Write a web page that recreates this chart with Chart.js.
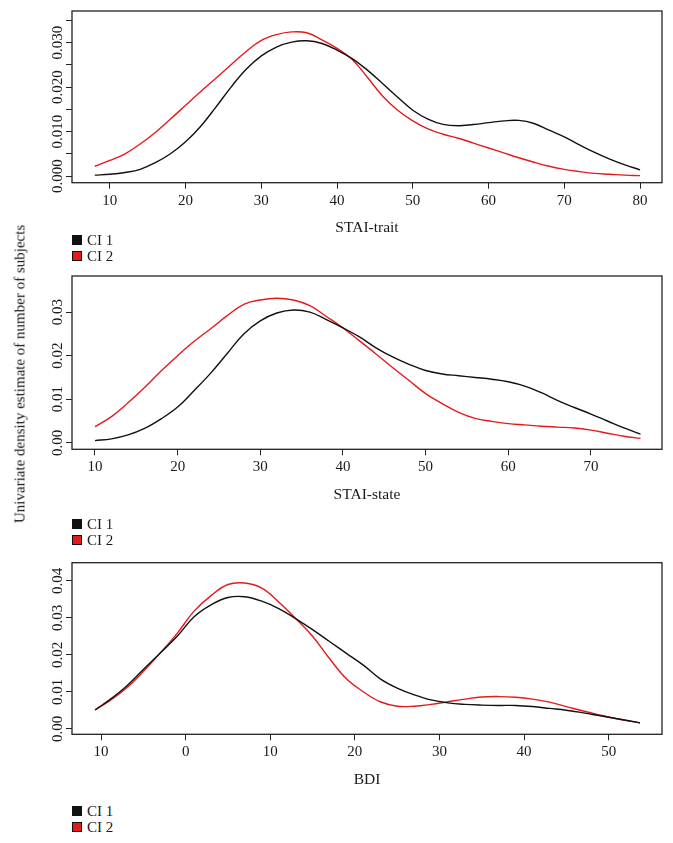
<!DOCTYPE html>
<html>
<head>
<meta charset="utf-8">
<script src="https://cdn.jsdelivr.net/npm/chart.js@4.4.1/dist/chart.umd.min.js"></script>
<style>
    body { margin: 0; background: #fff; width: 673px; height: 843px; position: relative; overflow: hidden;
           font-family: "Liberation Serif", "DejaVu Serif", serif; color: #1a1a1a; }
    canvas { position: absolute; left: 0; }
    .ytitle { position: absolute; left: 20px; top: 374px; transform: translate(-50%, -50%) rotate(-90deg);
              white-space: nowrap; font-size: 15px; color: #111; }
    .legend { position: absolute; left: 72px; font-size: 15px; }
    .legend div { height: 15.5px; line-height: 15.5px; white-space: nowrap; }
    .legend span { display: inline-block; width: 8px; height: 8px; border: 1px solid #111; margin-right: 5px; }
</style>
</head>
<body>
<canvas id="traitChart"></canvas>
<canvas id="stateChart"></canvas>
<canvas id="bdiChart"></canvas>

<div class="ytitle">Univariate density estimate of number of subjects</div>

<div class="legend" style="top:233px"><div><span style="background:#111"></span>CI 1</div><div><span style="background:#e41a1c"></span>CI 2</div></div>
<div class="legend" style="top:517px"><div><span style="background:#111"></span>CI 1</div><div><span style="background:#e41a1c"></span>CI 2</div></div>
<div class="legend" style="top:804px"><div><span style="background:#111"></span>CI 1</div><div><span style="background:#e41a1c"></span>CI 2</div></div>

<script>
// STAI-trait
const traitX = [8, 10, 12, 14, 16, 18, 20, 22, 24, 26, 28, 30, 32, 34, 36, 38, 40, 42, 44,
    46, 48, 50, 52, 54, 56, 58, 60, 62, 64, 66, 68, 70, 72, 74, 76, 78, 80];
const traitCI1 = [0.0002, 0.0004, 0.0008, 0.0015, 0.0030, 0.0050, 0.0077, 0.0112, 0.0155, 0.0200,
    0.0240, 0.0270, 0.0290, 0.0301, 0.0304, 0.0298, 0.0283, 0.0264, 0.0238, 0.0208, 0.0177,
    0.0148, 0.0128, 0.0116, 0.0113, 0.0116, 0.0120, 0.0124, 0.0125, 0.0118, 0.0103, 0.0088,
    0.0070, 0.0053, 0.0038, 0.0025, 0.0014];
const traitCI2 = [0.0022, 0.0035, 0.0050, 0.0072, 0.0098, 0.0128, 0.0159, 0.0190, 0.0220, 0.0250,
    0.0280, 0.0305, 0.0318, 0.0324, 0.0322, 0.0306, 0.0287, 0.0262, 0.0222, 0.0180, 0.0148,
    0.0124, 0.0106, 0.0094, 0.0085, 0.0074, 0.0063, 0.0052, 0.0041, 0.0031, 0.0022, 0.0015,
    0.0010, 0.0006, 0.0004, 0.0002, 0.0001];
const traitXTicks = [10, 20, 30, 40, 50, 60, 70, 80];
const traitXLabels = ['10', '20', '30', '40', '50', '60', '70', '80'];
const traitYTicks = [0, 0.005, 0.01, 0.015, 0.02, 0.025, 0.03, 0.035];
const traitYLabels = ['0.000', '0.010', '0.020', '0.030'];

// STAI-state
const stateX = [10, 12, 14, 16, 18, 20, 22, 24, 26, 28, 30, 32, 34, 36, 38, 40, 42, 44, 46,
    48, 50, 52, 54, 56, 58, 60, 62, 64, 66, 68, 70, 72, 74, 76];
const stateCI1 = [0.0005, 0.0009, 0.0018, 0.0033, 0.0055, 0.0082, 0.0120, 0.0160, 0.0205, 0.0250,
    0.0280, 0.0298, 0.0305, 0.0300, 0.0283, 0.0264, 0.0243, 0.0218, 0.0197, 0.0180, 0.0166,
    0.0158, 0.0154, 0.0150, 0.0146, 0.0140, 0.0130, 0.0115, 0.0097, 0.0081, 0.0066, 0.0050,
    0.0034, 0.0020];
const stateCI2 = [0.0037, 0.0060, 0.0092, 0.0127, 0.0165, 0.0200, 0.0233, 0.0262, 0.0292, 0.0318,
    0.0328, 0.0332, 0.0328, 0.0315, 0.0290, 0.0264, 0.0234, 0.0204, 0.0173, 0.0143, 0.0113,
    0.0090, 0.0070, 0.0056, 0.0049, 0.0044, 0.0041, 0.0038, 0.0036, 0.0034, 0.0029, 0.0022,
    0.0015, 0.0010];
const stateXTicks = [10, 20, 30, 40, 50, 60, 70];
const stateXLabels = ['10', '20', '30', '40', '50', '60', '70'];
const stateYTicks = [0, 0.01, 0.02, 0.03];
const stateYLabels = ['0.00', '0.01', '0.02', '0.03'];

// BDI
const bdiX = [-10.7, -9, -7, -5, -3, -1, 1, 3, 5, 7, 9, 11, 13, 15, 17, 19, 21, 23, 25, 27,
    29, 31, 33, 35, 37, 39, 41, 43, 45, 47, 49, 51, 53.7];
const bdiCI1 = [0.0051, 0.0078, 0.0115, 0.0160, 0.0205, 0.0250, 0.0303, 0.0335, 0.0355, 0.0357,
    0.0345, 0.0325, 0.0298, 0.0268, 0.0236, 0.0204, 0.0172, 0.0135, 0.0110, 0.0092, 0.0078,
    0.0070, 0.0066, 0.0064, 0.0063, 0.0063, 0.0060, 0.0055, 0.0050, 0.0043, 0.0035, 0.0027,
    0.0016];
const bdiCI2 = [0.0051, 0.0075, 0.0110, 0.0155, 0.0205, 0.0258, 0.0318, 0.0360, 0.0390, 0.0394,
    0.0380, 0.0343, 0.0298, 0.0250, 0.0190, 0.0135, 0.0100, 0.0073, 0.0061, 0.0061, 0.0066,
    0.0073, 0.0080, 0.0086, 0.0087, 0.0085, 0.0080, 0.0072, 0.0060, 0.0048, 0.0037, 0.0027,
    0.0016];
const bdiXTicks = [-10, 0, 10, 20, 30, 40, 50];
const bdiXLabels = ['10', '0', '10', '20', '30', '40', '50'];
const bdiYTicks = [0, 0.01, 0.02, 0.03, 0.04];
const bdiYLabels = ['0.00', '0.01', '0.02', '0.03', '0.04'];

const FONT = '"Liberation Serif", "DejaVu Serif", serif';
const INK = '#1a1a1a';

// box round the plot + y labels turned like R does
const rBox = {
    id: 'rBox',
    afterDraw: function (chart, args, opts) {
        const ctx = chart.ctx;
        const a = chart.chartArea;
        ctx.save();
        ctx.strokeStyle = '#222';
        ctx.lineWidth = 1.3;
        ctx.strokeRect(a.left, a.top, a.right - a.left, a.bottom - a.top);
        ctx.fillStyle = INK;
        ctx.font = '15px ' + FONT;
        ctx.textAlign = 'center';
        ctx.textBaseline = 'alphabetic';
        opts.labels.forEach(function (t) {
            const y = chart.scales.y.getPixelForValue(parseFloat(t));
            ctx.save();
            ctx.translate(a.left - 10, y);
            ctx.rotate(-Math.PI / 2);
            ctx.fillText(t, 0, 0);
            ctx.restore();
        });
        ctx.restore();
    }
};

function makePanel(id, p) {
    const cv = document.getElementById(id);
    const h = Math.round(p.titleAt - p.top + 17);
    cv.width = 673;
    cv.height = h;
    cv.style.top = p.top + 'px';
    cv.style.width = '673px';
    cv.style.height = h + 'px';

    function pts(ys) { return p.x.map(function (v, i) { return { x: v, y: ys[i] }; }); }

    new Chart(cv.getContext('2d'), {
        type: 'line',
        data: {
            datasets: [
                { label: 'CI 1', data: pts(p.ci1), borderColor: '#111', borderWidth: 1.4 },
                { label: 'CI 2', data: pts(p.ci2), borderColor: '#e41a1c', borderWidth: 1.4 }
            ]
        },
        options: {
            responsive: false,
            animation: false,
            layout: { padding: { left: 0, right: 11, top: p.chartTop - p.top, bottom: 0 } },
            elements: { point: { radius: 0 }, line: { tension: 0.4 } },
            plugins: { legend: { display: false }, tooltip: { enabled: false }, rBox: { labels: p.yLabels } },
            scales: {
                x: {
                    type: 'linear', min: p.xMin, max: p.xMax,
                    afterFit: function (s) { s.height = h - (p.chartBottom - p.top); },
                    afterBuildTicks: function (s) { s.ticks = p.xTicks.map(function (v) { return { value: v }; }); },
                    ticks: {
                        autoSkip: false, maxRotation: 0, padding: 3, color: INK,
                        font: { family: FONT, size: 15 },
                        callback: function (v, i) { return p.xLabels[i]; }
                    },
                    grid: { drawOnChartArea: false, tickLength: 6, color: '#222' },
                    border: { display: false },
                    title: { display: true, text: p.xTitle, color: INK, font: { family: FONT, size: 15.5 }, padding: { top: 0, bottom: 8 } }
                },
                y: {
                    min: p.yMin, max: p.yMax,
                    afterFit: function (s) { s.width = 72; },
                    afterBuildTicks: function (s) { s.ticks = p.yTicks.map(function (v) { return { value: v }; }); },
                    ticks: { display: false },
                    grid: { drawOnChartArea: false, tickLength: 6, color: '#222' },
                    border: { display: false }
                }
            }
        },
        plugins: [rBox]
    });
}

makePanel('traitChart', {
    top: 0, chartTop: 11, chartBottom: 182.7, titleAt: 228,
    x: traitX, ci1: traitCI1, ci2: traitCI2,
    xMin: 5.0, xMax: 82.9, yMin: -0.0015, yMax: 0.0371,
    xTicks: traitXTicks, xLabels: traitXLabels, yTicks: traitYTicks, yLabels: traitYLabels,
    xTitle: 'STAI-trait'
});

makePanel('stateChart', {
    top: 260, chartTop: 276, chartBottom: 449.3, titleAt: 495,
    x: stateX, ci1: stateCI1, ci2: stateCI2,
    xMin: 7.22, xMax: 78.6, yMin: -0.0015, yMax: 0.0383,
    xTicks: stateXTicks, xLabels: stateXLabels, yTicks: stateYTicks, yLabels: stateYLabels,
    xTitle: 'STAI-state'
});

makePanel('bdiChart', {
    top: 540, chartTop: 562.7, chartBottom: 734.3, titleAt: 780,
    x: bdiX, ci1: bdiCI1, ci2: bdiCI2,
    xMin: -13.43, xMax: 56.3, yMin: -0.0015, yMax: 0.0449,
    xTicks: bdiXTicks, xLabels: bdiXLabels, yTicks: bdiYTicks, yLabels: bdiYLabels,
    xTitle: 'BDI'
});
</script>
</body>
</html>
